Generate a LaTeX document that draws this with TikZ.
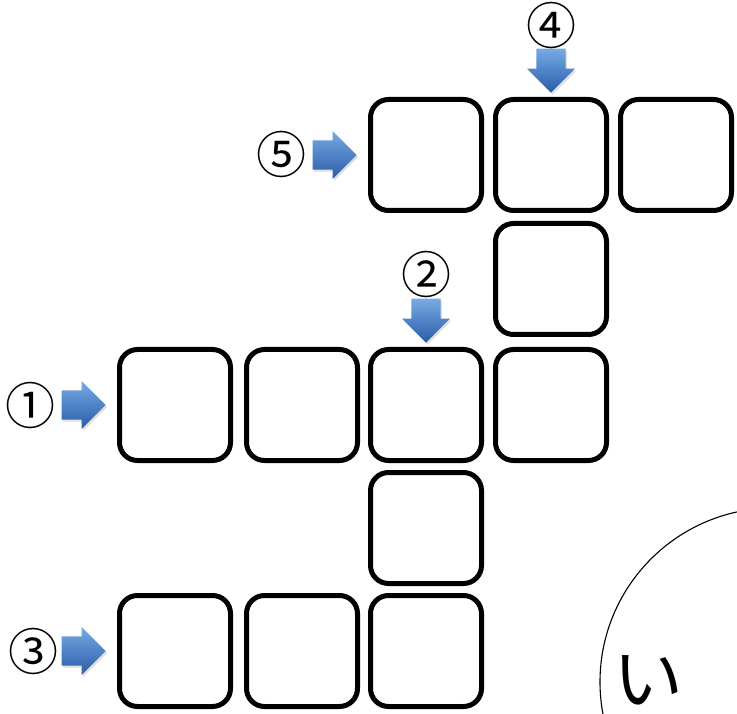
\documentclass[tikz,border=0pt]{standalone}
\usepackage{fontspec}
\newfontfamily\jpfont{Noto Sans CJK JP}
\usepackage{tikz}
\usetikzlibrary{positioning, shapes.arrows, shadows}
\definecolor{arrowlight}{RGB}{120,170,228}
\definecolor{arrowdark}{RGB}{40,92,168}

\begin{document}
\begin{tikzpicture}[
    x=1pt, y=-1pt,
    cell/.style={draw, line width=5pt, rounded corners=18pt, minimum size=111pt, inner sep=0pt},
    pointer/.style={single arrow, single arrow head extend=9.5pt, inner xsep=0pt, inner ysep=14.5pt,
        minimum height=44pt, minimum width=48pt, top color=arrowlight, bottom color=arrowdark, draw=none,
        drop shadow={shadow xshift=1.5pt, shadow yshift=-2pt, opacity=0.25}},
    downpointer/.style={pointer, shape border rotate=270, inner xsep=14.5pt, inner ysep=0pt},
    clue/.style={font=\jpfont\fontsize{50}{50}\selectfont, inner sep=0pt}
]
  \useasboundingbox (0,0) rectangle (737,714);

  % across 5 (top row)
  \node[cell] (w5a) at (426,155) {};
  \node[cell] (w5b) at (551,155) {};
  \node[cell] (w5c) at (676,155) {};
  % down 4
  \node[cell] (w4b) at (551,279) {};
  % across 1
  \node[cell] (w1a) at (175,405) {};
  \node[cell] (w1b) at (302,405) {};
  \node[cell] (w1c) at (426,405) {};
  \node[cell] (w1d) at (551,405) {};
  % down 2
  \node[cell] (w2b) at (426,528) {};
  % across 3
  \node[cell] (w3a) at (175,651) {};
  \node[cell] (w3b) at (302,651) {};
  \node[cell] (w3c) at (426,651) {};

  % clue arrows
  \node[pointer, left=11pt of w1a] (p1) {};
  \node[clue, left=6pt of p1] (n1) {①};
  \node[pointer, left=11pt of w3a] (p3) {};
  \node[clue, left=3pt of p3] (n3) {③};
  \node[pointer, left=11pt of w5a] (p5) {};
  \node[clue, left=6pt of p5] (n5) {⑤};
  \node[downpointer, above=4pt of w1c] (p2) {};
  \node[clue, above=1pt of p2] (n2) {②};
  \node[downpointer, above=4pt of w5b] (p4) {};
  \node[clue, above=0pt of p4] (n4) {④};

  % answer circle
  \begin{scope}
    \clip (0,0) rectangle (737,714);
    \draw[line width=1.1pt] (774,682) circle[radius=174];
  \end{scope}
  \node[font=\jpfont\fontsize{70}{70}\selectfont, inner sep=0pt] (kana) at (648,680) {い};
\end{tikzpicture}
\end{document}
